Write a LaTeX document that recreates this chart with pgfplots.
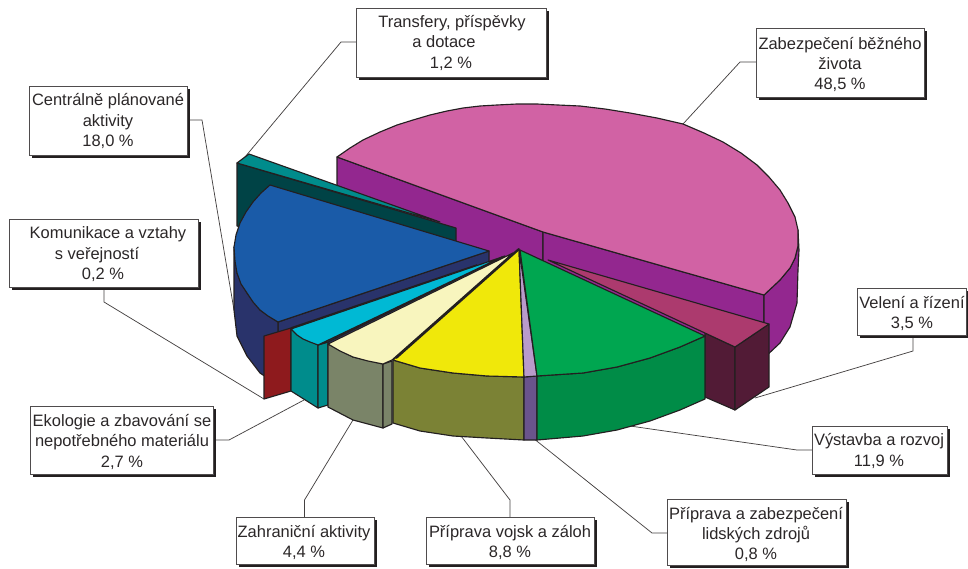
\documentclass[border=0pt]{standalone}
\usepackage{pgfplots}
\pgfplotsset{compat=1.18}
\usepackage{fontspec}
\setmainfont{Liberation Sans}
\definecolor{ln}{HTML}{231F20}
\definecolor{txt}{HTML}{2B2728}
\definecolor{P}{HTML}{93278F}
\definecolor{Q}{HTML}{D162A4}
\definecolor{mS}{HTML}{521B36}
\definecolor{mT}{HTML}{AC3A6E}
\definecolor{tD}{HTML}{004346}
\definecolor{tT}{HTML}{008C8C}
\definecolor{nS}{HTML}{29336B}
\definecolor{nT}{HTML}{1A5BA8}
\definecolor{rd}{HTML}{8E1A1D}
\definecolor{eS}{HTML}{008C8C}
\definecolor{eT}{HTML}{00B9D4}
\definecolor{zS}{HTML}{7A8468}
\definecolor{zT}{HTML}{F8F5BE}
\definecolor{yS}{HTML}{7B8235}
\definecolor{yT}{HTML}{F0E80A}
\definecolor{lS}{HTML}{6A548C}
\definecolor{lT}{HTML}{B99BCB}
\definecolor{gS}{HTML}{008C47}
\definecolor{gT}{HTML}{00A650}
\newcommand{\poly}[2]{\addplot[fill=#1,draw=ln,line width=0.85pt,line join=round] coordinates {#2} --cycle;}
\newcommand{\lead}[1]{\addplot[draw=ln!85,line width=0.55pt] coordinates {#1};}
\newcommand{\shad}[1]{\addplot[fill=ln,draw=none] coordinates {#1} --cycle;}
\newcommand{\bx}[1]{\addplot[fill=white,draw=ln!80,line width=0.6pt] coordinates {#1} --cycle;}
\newcommand{\tx}[3]{\node[font=\fontsize{12.35}{14}\selectfont,text=txt,inner sep=0pt,anchor=center,yshift=-2.2pt] at (axis cs:#1,#2) {\strut #3};}
\begin{document}
\begin{tikzpicture}
\begin{axis}[scale only axis,width=726pt,height=426pt,xmin=0,xmax=968,ymin=0,ymax=568,y dir=reverse,
  axis lines=none,no marks,clip=false]
\path (axis cs:0,0) rectangle (axis cs:968,568);
% leaders
\lead{(356,42)(341,42)(245,157)}
\lead{(189,120)(202,120)(234,310)}
\lead{(104,287)(104,302)(264,399)}
\lead{(213,440)(229,440)(304,400)}
\lead{(304.5,517)(304.5,500)(356,415)}
\lead{(510,517)(510,500)(458,432)}
\lead{(667,533)(652,533)(533,438)}
\lead{(812,450)(797,450)(630,426)}
\lead{(913,335)(913,351)(755,398)}
\lead{(756,62)(740,62)(683,124)}
% Zabezpeceni bezneho zivota 48,5
\poly{P}{(337,157)(543,232)(543,295)(337,220)}
\poly{P}{(543,232)(764,295)(764,358)(543,295)}
\poly{P}{(764,295)(780,280)(790,268)(795,258)(798,246)(798,230)(799,250)(798,270)(797,303)(790,327)(780,343)(764,358)}
\poly{Q}{(337,157)(350,148)(363,140)(380,132)(397,125)(413,120)(430,115)(447,111)(463,108)(480,106)(497,105)(517,104)(537,104)(558,105)(580,106)(605,109)(630,113)(657,118)(683,124)(704,133)(723,142)(741,153)(757,165)(769,177)(780,190)(788,203)(795,217)(798,230)(798,246)(795,258)(790,268)(780,280)(764,295)(543,232)}
% Veleni a rizeni 3,5
\poly{mS}{(705,333)(735,347)(735,410)(705,397)}
\poly{mS}{(735,347)(769,324)(769,387)(735,410)}
\poly{mT}{(548,260)(769,324)(735,347)}
% Transfery 1,2
\poly{tD}{(237,163)(456,228)(456,291)(237,226)}
\poly{tT}{(237,163)(249,154)(440,222)}
% Centralne planovane 18,0
\poly{nS}{(489,251)(489,314)(278,385)(278,322)}
\poly{nS}{(234,247)(237,273)(247,293)(260,310)(278,322)(278,385)(260,373)(247,356)(237,336)(234,310)}
\poly{nT}{(489,251)(270,185)(261,193)(253,202)(246,212)(240,223)(236,235)(234,247)(235,261)(237,273)(241,284)(247,293)(253,302)(260,310)(268,316)(278,322)}
% Komunikace 0,2
\poly{rd}{(264,336)(291,328)(291,391)(264,399)}
\addplot[draw=ln,line width=1.2pt] coordinates {(291,328)(477,265)};
% Ekologie 2,7
\poly{eS}{(291,329)(318,345)(318,408)(291,391)}
\poly{eS}{(318,345)(328,342)(328,405)(318,408)}
\poly{eS}{(318,345)(502,257)(505,256)(328,342)}
\poly{eT}{(291,329)(297,335)(303,339)(310,342)(318,345)(502,257)}
% Zahranicni 4,4
\poly{zS}{(328,344)(353,357)(383,364)(383,428)(353,420)(328,407)}
\poly{zS}{(383,364)(392,361)(392,424)(383,428)}
\poly{zT}{(328,344)(340,351)(353,357)(368,361)(383,364)(392,360)(513,253)}
% Priprava vojsk 8,8
\poly{yS}{(393,360)(420,368)(453,373)(487,376)(524,377)(524,440)(487,438)(453,436)(420,431)(393,423)}
\poly{yT}{(519,249)(393,360)(420,368)(453,373)(487,376)(524,377)}
\addplot[draw=ln,line width=1.7pt] coordinates {(396,358)(519,249)};
% Priprava a zabezpeceni 0,8
\poly{lS}{(524,377)(537,376)(537,440)(524,440)}
\poly{lT}{(519,249)(524,377)(537,376)}
% Vystavba 11,9
\poly{gS}{(537,376)(583,373)(617,367)(650,358)(680,347)(705,336)(705,399)(680,410)(650,421)(617,430)(583,436)(537,440)}
\poly{gT}{(520,250)(705,336)(680,347)(650,358)(617,367)(583,373)(537,376)}
% boxes
\shad{(359,11)(549,11)(549,80)(359,80)}\bx{(356,8)(546,8)(546,77)(356,77)}
\shad{(759,31)(927,31)(927,100)(759,100)}\bx{(756,28)(924,28)(924,97)(756,97)}
\shad{(32,89)(190,89)(190,158)(32,158)}\bx{(29,86)(187,86)(187,155)(29,155)}
\shad{(12,222)(201,222)(201,290)(12,290)}\bx{(9,219)(198,219)(198,287)(9,287)}
\shad{(33,409)(216,409)(216,477)(33,477)}\bx{(30,406)(213,406)(213,474)(30,474)}
\shad{(239,520)(377,520)(377,567)(239,567)}\bx{(236,517)(374,517)(374,564)(236,564)}
\shad{(429,520)(597,520)(597,567)(429,567)}\bx{(426,517)(594,517)(594,564)(426,564)}
\shad{(670,502)(849,502)(849,568)(670,568)}\bx{(667,499)(846,499)(846,565)(667,565)}
\shad{(815,429)(950,429)(950,477)(815,477)}\bx{(812,426)(947,426)(947,474)(812,474)}
\shad{(860,291)(968,291)(968,338)(860,338)}\bx{(857,288)(966,288)(966,335)(857,335)}
% text
\tx{452}{21}{Transfery, příspěvky}\tx{444}{41}{a dotace}\tx{451}{62}{1,2 \%}
\tx{840}{43}{Zabezpečení běžného}\tx{840}{63}{života}\tx{840}{83}{48,5 \%}
\tx{108}{99}{Centrálně plánované}\tx{108}{120}{aktivity}\tx{108}{140}{18,0 \%}
\tx{108}{232}{Komunikace a vztahy}\tx{97}{253}{s veřejností}\tx{103}{273}{0,2 \%}
\tx{122}{420}{Ekologie a zbavování se}\tx{122}{440}{nepotřebného materiálu}\tx{122}{461}{2,7 \%}
\tx{304}{531}{Zahraniční aktivity}\tx{304}{551}{4,4 \%}
\tx{510}{531}{Příprava vojsk a záloh}\tx{510}{551}{8,8 \%}
\tx{756}{513}{Příprava a zabezpečení}\tx{756}{533}{lidských zdrojů}\tx{756}{553}{0,8 \%}
\tx{879}{439}{Výstavba a rozvoj}\tx{879}{460}{11,9 \%}
\tx{912}{302}{Velení a řízení}\tx{912}{322}{3,5 \%}
\end{axis}
\end{tikzpicture}
\end{document}
